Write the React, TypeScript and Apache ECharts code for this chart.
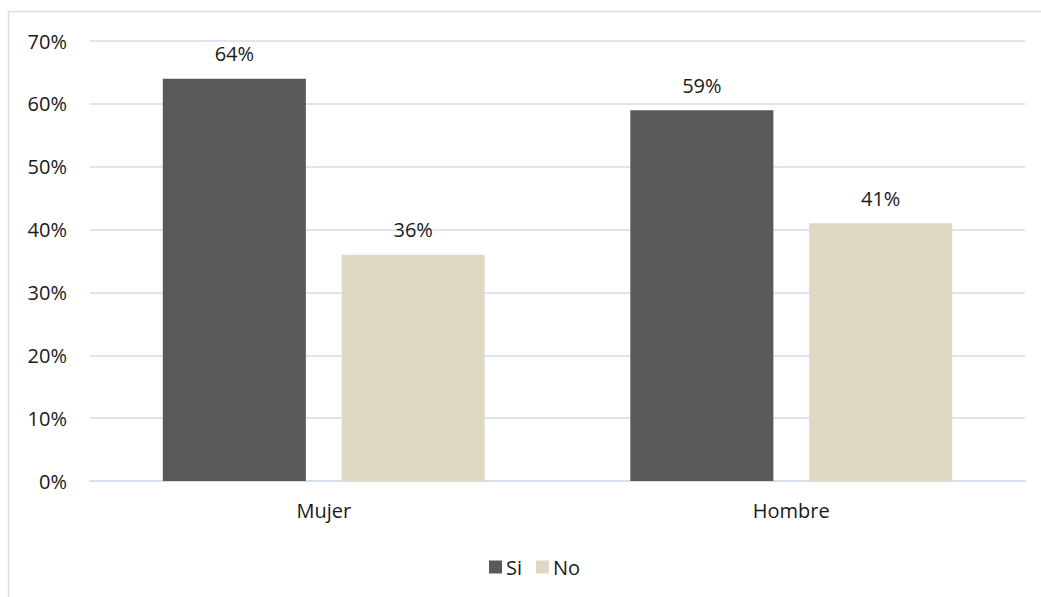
import React, { useEffect, useRef } from "react";
import * as echarts from "echarts";

// Categories, series and axis ticks
const categories = ["Mujer", "Hombre"];
const siValues = [64, 59];
const noValues = [36, 41];
const yTicks = [0, 10, 20, 30, 40, 50, 60, 70];

const FONT = "'Open Sans', 'Noto Sans', sans-serif";
const TEXT = "#1a1a1a";
const SIZE = 20;

export default function App() {
  const ref = useRef<HTMLDivElement>(null);

  useEffect(() => {
    if (!ref.current) return;
    const chart = echarts.init(ref.current, undefined, { renderer: "svg" });
    const labelStyle = {
      show: true,
      position: "top" as const,
      distance: 15,
      formatter: (p: any) => `${p.value}%`,
      color: TEXT,
      fontFamily: FONT,
      fontSize: SIZE,
    };
    chart.setOption({
      animation: false,
      backgroundColor: "#ffffff",
      graphic: [
        {
          type: "rect",
          silent: true,
          shape: { x: 8.5, y: 11.5, width: 1200, height: 800 },
          style: { fill: "none", stroke: "#D5DFEE", lineWidth: 1.5 },
          z: -10,
        },
      ],
      grid: { left: 90, right: 16, top: 41, bottom: 116, containLabel: false },
      legend: {
        data: ["Si", "No"],
        left: 484,
        top: 552,
        itemWidth: 13,
        itemHeight: 13,
        itemGap: 14,
        icon: "rect",
        textStyle: { color: TEXT, fontFamily: FONT, fontSize: SIZE, padding: [0, 0, 0, -1] },
      },
      xAxis: {
        type: "category",
        data: categories,
        axisLine: { show: true, lineStyle: { color: "#D5DFEE", width: 2 } },
        axisTick: { show: false },
        axisLabel: { color: TEXT, fontFamily: FONT, fontSize: SIZE, margin: 19 },
      },
      yAxis: {
        type: "value",
        min: yTicks[0],
        max: yTicks[yTicks.length - 1],
        interval: 10,
        axisLine: { show: false },
        axisTick: { show: false },
        axisLabel: {
          color: TEXT,
          fontFamily: FONT,
          fontSize: SIZE,
          margin: 23,
          formatter: (v: number) => `${v}%`,
        },
        splitLine: { lineStyle: { color: "#DCE6F2", width: 2 } },
      },
      series: [
        {
          name: "Si",
          type: "bar",
          data: siValues,
          barWidth: "30.6%",
          barGap: "25%",
          itemStyle: { color: "#595959" },
          label: labelStyle,
        },
        {
          name: "No",
          type: "bar",
          data: noValues,
          barWidth: "30.6%",
          barGap: "25%",
          itemStyle: { color: "#DDD9C4" },
          label: labelStyle,
        },
      ],
    });
    return () => chart.dispose();
  }, []);

  return (
    <div
      ref={ref}
      style={{ position: "absolute", left: 0, top: 0, width: 1041, height: 597 }}
    />
  );
}
